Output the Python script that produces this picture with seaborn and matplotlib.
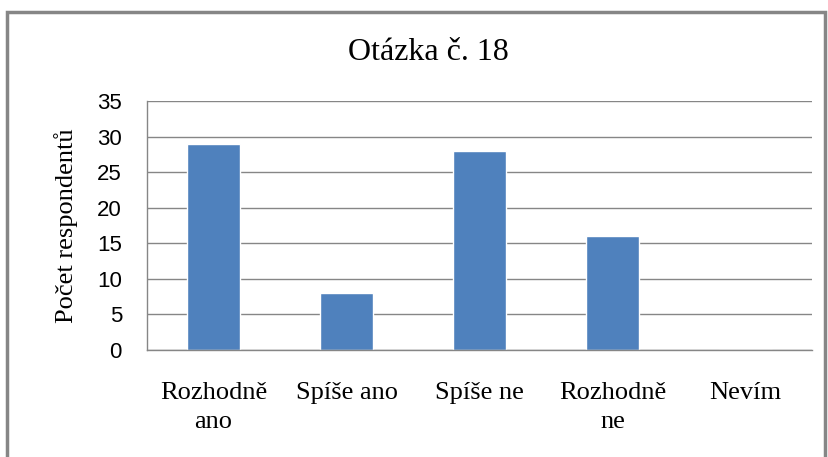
import pandas as pd
import seaborn as sns
import matplotlib.pyplot as plt
from matplotlib.patches import Rectangle

categories = ["Rozhodně\nano", "Spíše ano", "Spíše ne", "Rozhodně\nne", "Nevím"]
counts = [29, 8, 28, 16, 0]

df = pd.DataFrame({"odpoved": categories, "pocet": counts})

sns.set_style("white")
fig = plt.figure(figsize=(8.29, 4.57), dpi=100)
ax = fig.add_axes([147 / 829, 1 - 350 / 457, (812 - 147) / 829, (350 - 101) / 457])

sns.barplot(data=df, x="odpoved", y="pocet", color="#4F81BD", width=0.4,
            saturation=1, ax=ax)

ax.set_ylim(0, 35)
ax.set_yticks(range(0, 36, 5))
ax.set_xlim(-0.5, 4.5)
ax.yaxis.grid(True, color="#868686", linewidth=1)
ax.set_axisbelow(True)
for side in ["top", "right"]:
    ax.spines[side].set_visible(False)
for side in ["left", "bottom"]:
    ax.spines[side].set_color("#868686")
    ax.spines[side].set_linewidth(1)
ax.tick_params(axis="both", length=0, colors="black")
ax.tick_params(axis="x", pad=23)
ax.tick_params(axis="y", pad=18)

for lab in ax.get_yticklabels():
    lab.set_fontfamily("Liberation Sans")
    lab.set_fontsize(16)
for lab in ax.get_xticklabels():
    lab.set_fontfamily("Liberation Serif")
    lab.set_fontsize(19)
    lab.set_linespacing(1.4)

ax.set_xlabel("")
ax.set_ylabel("Počet respondentů", fontfamily="Liberation Serif", fontsize=19,
              labelpad=14, color="black")

fig.text(428 / 829, 1 - 52 / 457, "Otázka č. 18", ha="center", va="center",
         fontfamily="Liberation Serif", fontsize=23, color="black")

fig.patches.append(Rectangle((7 / 829, -0.1), (825 - 7) / 829, 1.1 - 12 / 457,
                             transform=fig.transFigure, fill=False,
                             edgecolor="#868686", linewidth=2.5))

fig.savefig("out.png", dpi=100)
